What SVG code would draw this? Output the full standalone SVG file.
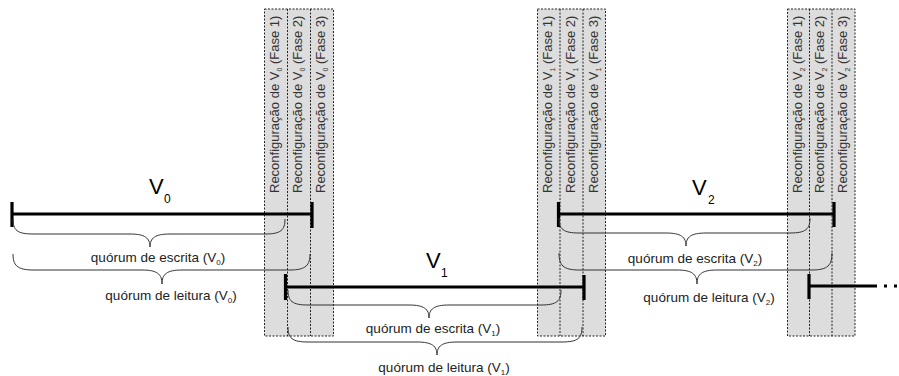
<svg xmlns="http://www.w3.org/2000/svg" width="899" height="376" viewBox="0 0 899 376">
<style>
  .col { fill: #dddddd; stroke: none; }
  .dot { fill: none; stroke: #222; stroke-width: 1; stroke-dasharray: 2 1.5; }
  .vt { font-family: "Liberation Sans", Arial, sans-serif; font-size: 13px; fill: #333; }
  .sub7 { font-size: 7px; }
  .bar { stroke: #000; stroke-width: 3; fill: none; }
  .tick { stroke: #000; stroke-width: 3.2; fill: none; }
  .brace { fill: none; stroke: #333; stroke-width: 1; }
  .ql { font-family: "Liberation Sans", Arial, sans-serif; font-size: 13.5px; fill: #222; text-anchor: middle; }
  .qs { font-size: 8px; }
  .big { font-family: "Liberation Sans", Arial, sans-serif; font-size: 22px; fill: #000; }
  .bigs { font-family: "Liberation Sans", Arial, sans-serif; font-size: 12px; fill: #000; }
</style>

<!-- Reconfiguration V0 -->
<g id="reconf-v0">
  <rect class="col" x="264.5" y="9" width="69" height="327"/>
  <rect class="dot" x="264.5" y="9" width="69" height="327"/>
  <line class="dot" x1="287.5" y1="9" x2="287.5" y2="336"/>
  <line class="dot" x1="310.5" y1="9" x2="310.5" y2="336"/>
  <text class="vt" transform="translate(279,193) rotate(-90)">Reconfiguração de V<tspan class="sub7" dy="3">0</tspan><tspan dy="-3"> (Fase 1)</tspan></text>
  <text class="vt" transform="translate(302,193) rotate(-90)">Reconfiguração de V<tspan class="sub7" dy="3">0</tspan><tspan dy="-3"> (Fase 2)</tspan></text>
  <text class="vt" transform="translate(325,193) rotate(-90)">Reconfiguração de V<tspan class="sub7" dy="3">0</tspan><tspan dy="-3"> (Fase 3)</tspan></text>
</g>

<!-- Reconfiguration V1 -->
<g id="reconf-v1">
  <rect class="col" x="537.5" y="9" width="68" height="327"/>
  <rect class="dot" x="537.5" y="9" width="68" height="327"/>
  <line class="dot" x1="560" y1="9" x2="560" y2="336"/>
  <line class="dot" x1="583" y1="9" x2="583" y2="336"/>
  <text class="vt" transform="translate(552,193) rotate(-90)">Reconfiguração de V<tspan class="sub7" dy="3">1</tspan><tspan dy="-3"> (Fase 1)</tspan></text>
  <text class="vt" transform="translate(574.5,193) rotate(-90)">Reconfiguração de V<tspan class="sub7" dy="3">1</tspan><tspan dy="-3"> (Fase 2)</tspan></text>
  <text class="vt" transform="translate(597.5,193) rotate(-90)">Reconfiguração de V<tspan class="sub7" dy="3">1</tspan><tspan dy="-3"> (Fase 3)</tspan></text>
</g>

<!-- Reconfiguration V2 -->
<g id="reconf-v2">
  <rect class="col" x="787.5" y="9" width="67.5" height="327"/>
  <rect class="dot" x="787.5" y="9" width="67.5" height="327"/>
  <line class="dot" x1="809.5" y1="9" x2="809.5" y2="336"/>
  <line class="dot" x1="832" y1="9" x2="832" y2="336"/>
  <text class="vt" transform="translate(802,193) rotate(-90)">Reconfiguração de V<tspan class="sub7" dy="3">2</tspan><tspan dy="-3"> (Fase 1)</tspan></text>
  <text class="vt" transform="translate(824,193) rotate(-90)">Reconfiguração de V<tspan class="sub7" dy="3">2</tspan><tspan dy="-3"> (Fase 2)</tspan></text>
  <text class="vt" transform="translate(846.5,193) rotate(-90)">Reconfiguração de V<tspan class="sub7" dy="3">2</tspan><tspan dy="-3"> (Fase 3)</tspan></text>
</g>

<!-- Views -->
<g id="view-v0">
  <line class="bar" x1="12" y1="214" x2="312" y2="214"/>
  <line class="tick" x1="12" y1="202" x2="12" y2="227"/>
  <line class="tick" x1="312" y1="202" x2="312" y2="228"/>
  <text class="big" x="149" y="194">V</text><text class="bigs" x="164" y="203">0</text>
</g>
<g id="view-v1">
  <line class="bar" x1="285" y1="287" x2="584" y2="287"/>
  <line class="tick" x1="285.5" y1="274" x2="285.5" y2="300"/>
  <line class="tick" x1="584" y1="275" x2="584" y2="300"/>
  <text class="big" x="426" y="268">V</text><text class="bigs" x="441" y="277">1</text>
</g>
<g id="view-v2">
  <line class="bar" x1="558" y1="214" x2="834" y2="214"/>
  <line class="tick" x1="558.5" y1="202" x2="558.5" y2="227"/>
  <line class="tick" x1="834" y1="202" x2="834" y2="227"/>
  <text class="big" x="692" y="195">V</text><text class="bigs" x="708" y="204">2</text>
</g>
<g id="view-v3">
  <line class="bar" x1="809" y1="286" x2="877" y2="286"/>
  <line class="tick" x1="809" y1="274" x2="809" y2="299"/>
  <line class="bar" x1="884" y1="286" x2="899" y2="286" stroke-dasharray="3 7"/>
</g>

<!-- Quorum braces -->
<g id="connectors">
  <path class="brace" d="M13,219 C13,230 17,234 33,234 L130,234 C145,234 150,238 150,247 C150,238 155,234 170,234 L265,234 C281,234 285,230 285,219"/>
  <path class="brace" d="M13,254 C13,265 17,270 33,270 L142,270 C157,270 162,274 162,284 C162,274 167,270 182,270 L290,270 C306,270 310,265 310,254"/>
  <path class="brace" d="M288,290 C288,301 292,305 308,305 L409,305 C424,305 429,309 429,318 C429,309 434,305 449,305 L541,305 C557,305 561,301 561,290"/>
  <path class="brace" d="M288,327 C288,338 292,342 308,342 L417,342 C432,342 437,346 437,355 C437,346 442,342 457,342 L562,342 C578,342 582,338 582,327"/>
  <path class="brace" d="M559,218 C559,229 563,233 579,233 L666,233 C681,233 686,237 686,246 C686,237 691,233 706,233 L790,233 C806,233 810,229 810,218"/>
  <path class="brace" d="M559,253 C559,265 563,270 579,270 L677,270 C692,270 697,274 697,284 C697,274 702,270 717,270 L812,270 C828,270 832,265 832,253"/>
</g>

<g id="labels">
  <text class="ql" x="158" y="262">quórum de escrita (V<tspan class="qs" dy="3">0</tspan><tspan dy="-3">)</tspan></text>
  <text class="ql" x="171" y="300">quórum de leitura (V<tspan class="qs" dy="3">0</tspan><tspan dy="-3">)</tspan></text>
  <text class="ql" x="433" y="333">quórum de escrita (V<tspan class="qs" dy="3">1</tspan><tspan dy="-3">)</tspan></text>
  <text class="ql" x="444" y="372">quórum de leitura (V<tspan class="qs" dy="3">1</tspan><tspan dy="-3">)</tspan></text>
  <text class="ql" x="695" y="263">quórum de escrita (V<tspan class="qs" dy="3">2</tspan><tspan dy="-3">)</tspan></text>
  <text class="ql" x="709" y="302">quórum de leitura (V<tspan class="qs" dy="3">2</tspan><tspan dy="-3">)</tspan></text>
</g>
</svg>
